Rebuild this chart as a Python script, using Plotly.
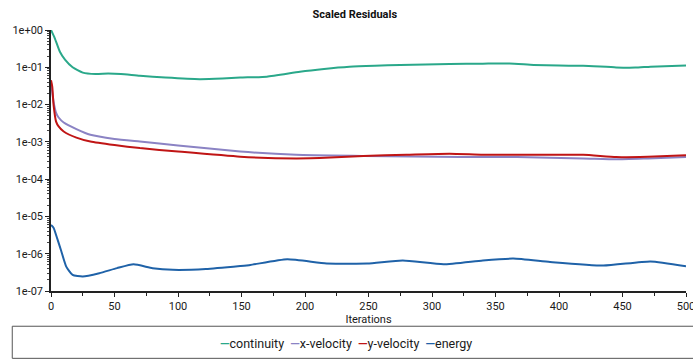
import plotly.graph_objects as go

# Residual history (iteration, scaled residual)
cont_it = [0, 3, 7, 11, 17, 25, 35, 45, 55, 70, 90, 117, 135, 149, 170, 196, 215, 235,
           255, 275, 314, 340, 361, 380, 400, 419, 445, 460, 472, 500]
cont_val = [1.0, 0.6, 0.26, 0.16, 0.10, 0.072, 0.066, 0.068, 0.066, 0.059, 0.053, 0.048,
            0.050, 0.053, 0.056, 0.076, 0.090, 0.103, 0.110, 0.115, 0.122, 0.125, 0.127,
            0.116, 0.111, 0.110, 0.099, 0.098, 0.104, 0.112]

xvel_it = [0, 2, 4, 6, 10, 20, 31, 50, 70, 100, 149, 193, 246, 322, 367, 419, 445, 470, 500]
xvel_val = [0.04, 0.012, 0.006, 0.0045, 0.0033, 0.0022, 0.00155, 0.0012, 0.00102, 0.0008,
            0.00055, 0.00045, 0.00042, 0.00039, 0.00039, 0.00036, 0.00034, 0.00036, 0.00039]

yvel_it = [0, 1, 2, 4, 6, 10, 20, 31, 50, 70, 100, 149, 193, 220, 246, 280, 314, 340, 367,
           419, 445, 470, 500]
yvel_val = [0.045, 0.03, 0.01, 0.0035, 0.0026, 0.0019, 0.0013, 0.00102, 0.00082, 0.00068,
            0.00055, 0.0004, 0.00036, 0.00038, 0.00042, 0.00045, 0.00048, 0.00045, 0.00045,
            0.00045, 0.00039, 0.0004, 0.00044]

energy_it = [0, 2, 5, 8, 12, 17, 25, 38, 52, 65, 80, 96, 122, 149, 157, 186, 217, 249, 277,
             309, 340, 364, 393, 435, 472, 500]
energy_val = [5.9e-6, 5.0e-6, 2.5e-6, 1.2e-6, 4.5e-7, 2.7e-7, 2.45e-7, 3.0e-7, 4.1e-7, 5.2e-7,
              4.1e-7, 3.7e-7, 3.9e-7, 4.7e-7, 5.0e-7, 7.1e-7, 5.5e-7, 5.5e-7, 6.6e-7, 5.2e-7,
              6.6e-7, 7.4e-7, 6.0e-7, 4.8e-7, 6.2e-7, 4.6e-7]

series_names = ["continuity", "x-velocity", "y-velocity", "energy"]
series_colors = ["#2aa88a", "#8b83c4", "#c01515", "#1f62a8"]

y_tickvals = [1, 1e-1, 1e-2, 1e-3, 1e-4, 1e-5, 1e-6, 1e-7]
y_ticktext = ["1e+00", "1e-01", "1e-02", "1e-03", "1e-04", "1e-05", "1e-06", "1e-07"]

FONT = "Roboto"
fig = go.Figure()
for name, color, xs, ys in zip(series_names, series_colors,
                               [cont_it, xvel_it, yvel_it, energy_it],
                               [cont_val, xvel_val, yvel_val, energy_val]):
    fig.add_trace(go.Scatter(x=xs, y=ys, name=name, mode="lines",
                             line=dict(color=color, width=2, shape="spline", smoothing=0.5),
                             showlegend=False))

# legend row drawn as styled text inside a framed box
legend_html = "&nbsp;&nbsp;".join(
    f'<span style="color:{c}"><b>—</b></span>{n}' for n, c in zip(series_names, series_colors))
fig.add_annotation(text=legend_html, xref="paper", yref="paper", x=0.465, y=-0.2,
                   yanchor="middle", xanchor="center", showarrow=False,
                   font=dict(family=FONT, size=12.5, color="#1a1a1a"))
fig.add_shape(type="rect", xref="paper", yref="paper", x0=-0.061, x1=1.02,
              y0=-0.258, y1=-0.135, line=dict(color="#555555", width=1))

fig.update_layout(
    width=693, height=360,
    margin=dict(l=51, r=7, t=30, b=69, autoexpand=False),
    plot_bgcolor="white", paper_bgcolor="white",
    font=dict(family=FONT, size=11, color="#1a1a1a"),
    title=dict(text="<b>Scaled Residuals</b>", x=0.512, xanchor="center",
               y=0.96, yanchor="middle", font=dict(family=FONT, size=11, color="#111")),
    xaxis=dict(range=[0, 500], dtick=50, showgrid=False, zeroline=False,
               showline=True, linecolor="#222", linewidth=1.5, automargin=False,
               ticks="outside", ticklen=4, tickcolor="#222", ticklabeloverflow="allow",
               minor=dict(dtick=25, ticks="outside", ticklen=3, tickcolor="#222"),
               title=dict(text="Iterations", standoff=2, font=dict(size=11)),
               tickfont=dict(size=11)),
    yaxis=dict(type="log", range=[-7, 0], tickvals=y_tickvals, ticktext=y_ticktext,
               showgrid=False, zeroline=False, showline=True, linecolor="#222", linewidth=1.5,
               ticks="outside", ticklen=4, tickcolor="#222", automargin=False,
               minor=dict(ticks="outside", ticklen=2, tickcolor="#444", dtick="D1"),
               tickfont=dict(size=11)),
)

fig.write_html("out.html")
